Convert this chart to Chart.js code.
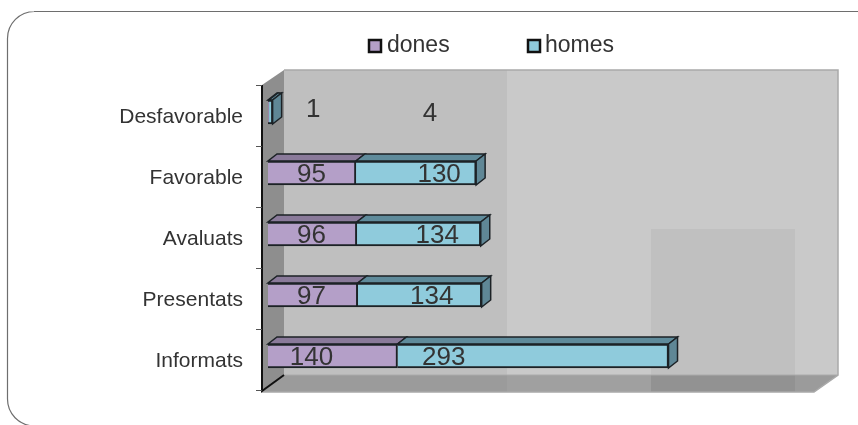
<!DOCTYPE html>
<html><head><meta charset="utf-8">
<style>html,body{margin:0;padding:0;background:#fff}canvas{display:block}</style>
<script src="https://cdn.jsdelivr.net/npm/chart.js@4"></script></head>
<body><div style="width:858px;height:425px;position:relative"><canvas id="c" width="858" height="425"></canvas></div>
<script>
const categories=["Desfavorable","Favorable","Avaluats","Presentats","Informats"];
const dones=[1,95,96,97,140];
const homes=[4,130,134,134,293];
const FONT='"Liberation Sans", Arial, sans-serif';
const TXT='#333333';
const depth={x:9,y:-7};
const homesLabelAt=[175,185,183,177,190];
const donesLabelAt=[49,47,47,47,47];
function poly(ctx,pts,fill,stroke,lw){ctx.beginPath();pts.forEach((p,i)=>i?ctx.lineTo(p[0],p[1]):ctx.moveTo(p[0],p[1]));ctx.closePath();
 if(fill){ctx.fillStyle=fill;ctx.fill();} if(stroke){ctx.strokeStyle=stroke;ctx.lineWidth=lw||1;ctx.stroke();}}
const scene={id:'scene',
 beforeDraw(chart){const c=chart.ctx;c.save();
  c.strokeStyle='#6e6e6e';c.lineWidth=1.2;c.beginPath();c.moveTo(858,11.5);c.lineTo(34,11.5);c.arcTo(7.5,11.5,7.5,38,27);c.lineTo(7.5,398);c.arcTo(7.5,425,34,426,27);c.stroke();
  poly(c,[[284,70],[838,70],[838,375],[284,375]],'#c9c9c9');
  poly(c,[[284,70],[507,70],[507,375],[284,375]],'#bfbfbf');
  poly(c,[[651,229],[795,229],[795,375],[651,375]],'#c0c0c0');
  poly(c,[[284,375],[838,375],[814,392],[262,392]],'#9b9b9b');
  poly(c,[[507,375],[651,375],[651,392],[507,392]],'#a0a0a0');
  poly(c,[[651,375],[795,375],[795,392],[651,392]],'#929292');
  poly(c,[[262,85],[284,70],[284,375],[262,391]],'#8e8e8e');
  c.strokeStyle='#a9a9a9';c.lineWidth=1.5;c.beginPath();c.moveTo(284,70);c.lineTo(838,70);c.lineTo(838,375);c.lineTo(814,392);c.lineTo(262,392);c.stroke();
  c.strokeStyle='#aaaaaa';c.lineWidth=1;c.beginPath();c.moveTo(284,375);c.lineTo(838,375);c.stroke();
  c.strokeStyle='#111';c.lineWidth=2;c.beginPath();c.moveTo(262,85);c.lineTo(262,391);c.lineTo(284,375);c.stroke();
  c.lineWidth=1;c.strokeStyle='#555';c.beginPath();
  const ys=chart.scales.y;
  for(let i=0;i<=categories.length;i++){const y=Math.round(ys.top+i*(ys.bottom-ys.top)/categories.length)+3.5;c.moveTo(256,y);c.lineTo(262,y);}
  c.stroke();
  c.restore();
 },
 beforeDatasetsDraw(chart){const c=chart.ctx;c.save();
  const tops=['#8a7a9a','#5f8b9b'],side='#5f8796';
  chart.data.datasets.forEach((ds,di)=>{chart.getDatasetMeta(di).data.forEach(el=>{
   const p=el.getProps(['x','y','base','height']);const t=p.y-p.height/2;
   poly(c,[[p.base,t],[p.x,t],[p.x+depth.x,t+depth.y],[p.base+depth.x,t+depth.y]],tops[di],'#1c2226',1.5);
  });});
  chart.getDatasetMeta(1).data.forEach(el=>{const p=el.getProps(['x','y','height']);const t=p.y-p.height/2,b=p.y+p.height/2;
   poly(c,[[p.x,t],[p.x+depth.x,t+depth.y],[p.x+depth.x,b+depth.y],[p.x,b]],side,'#1c2226',1.5);});
  c.restore();
 },
 afterDatasetsDraw(chart){const c=chart.ctx;c.save();
  c.fillStyle=TXT;c.font='26px '+FONT;c.textAlign='center';c.textBaseline='middle';
  const xs=chart.scales.x,ys=chart.scales.y;
  categories.forEach((cat,i)=>{const y=ys.getPixelForValue(i);
   c.fillText(String(dones[i]),xs.getPixelForValue(donesLabelAt[i]),y+(i===0?-2:2));
   c.fillText(String(homes[i]),xs.getPixelForValue(homesLabelAt[i]),y+2);
  });
  const items=[[368,387,'#b49fc8',chart.data.datasets[0].label],[527,545,'#8fcbdc',chart.data.datasets[1].label]];
  c.textAlign='left';c.font='23px '+FONT;
  items.forEach(it=>{c.fillStyle=it[2];c.strokeStyle='#111';c.lineWidth=2.5;c.fillRect(it[0]+1,40,12,12);c.strokeRect(it[0]+1,40,12,12);
   c.fillStyle=TXT;c.fillText(it[3],it[1],46);});
  c.restore();
 }};
new Chart(document.getElementById('c'),{type:'bar',
 data:{labels:categories,datasets:[
  {label:'dones',data:dones,backgroundColor:'#b49fc8',borderColor:'#1c2226',borderWidth:2,barThickness:24,stack:'s'},
  {label:'homes',data:homes,backgroundColor:'#8fcbdc',borderColor:'#1c2226',borderWidth:2,barThickness:24,stack:'s'}]},
 options:{indexAxis:'y',responsive:false,animation:false,
  layout:{padding:{top:81.5,bottom:38.5,left:0,right:35}},
  plugins:{legend:{display:false},tooltip:{enabled:false}},
  scales:{
   x:{stacked:true,min:0,max:600,display:false},
   y:{stacked:true,afterFit(s){s.width=268;},grid:{display:false},border:{display:false},
      ticks:{color:TXT,font:{family:FONT,size:21},padding:17,labelOffset:5,autoSkip:false}}}
 },plugins:[scene]});
</script></body></html>
